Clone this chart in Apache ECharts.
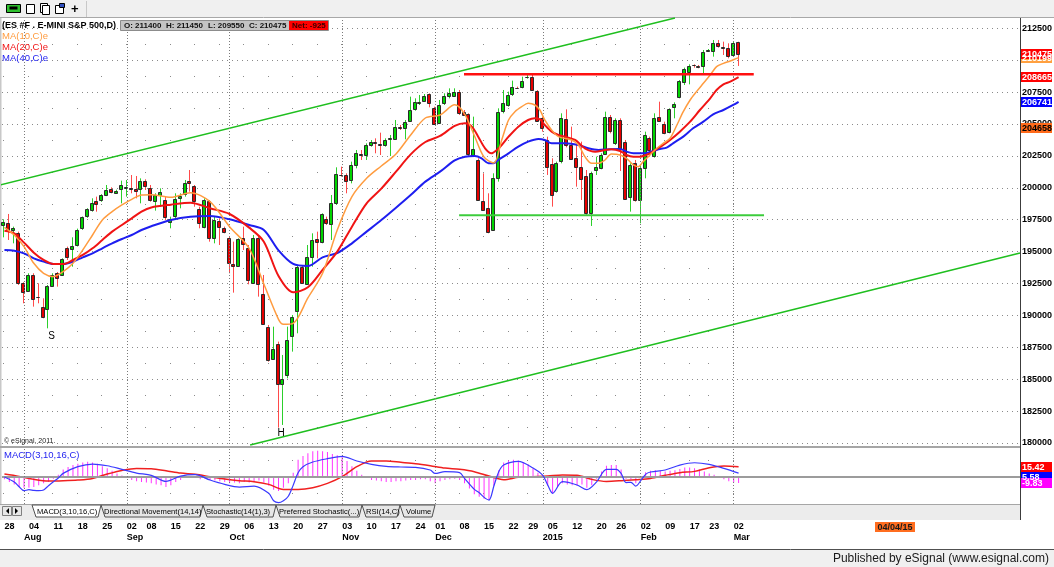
<!DOCTYPE html>
<html><head><meta charset="utf-8">
<script src="https://cdn.jsdelivr.net/npm/echarts@6/dist/echarts.min.js"></script>
<style>html,body{margin:0;padding:0;background:#fff}#c{width:1054px;height:567px}</style>
</head><body><div id="c"></div>
<script>
// ---------------- DATA ----------------
const startDate = '2014-07-28';
const holidays = ['2014-09-01','2014-11-27','2014-12-25','2015-01-01','2015-01-19','2015-02-16','2015-04-03','2015-05-25'];
const categoryCount = 208;

const opens = [197086,197216,196641,196433,192515,191940,193168,191418,190686,190477,
192306,193350,193168,195283,195179,195492,196824,197739,198313,198992,
198992,199410,199880,199619,199880,199933,199985,199933,199880,200560,
199959,198992,199436,199045,197321,197739,199175,199567,200533,200142,
198313,196955,198992,196041,197399,196824,196041,194030,193873,196041,
195309,192593,196093,191653,189119,186585,187761,184627,185332,188388,
190294,193768,192462,194604,195962,195728,197530,197164,198783,201030,
201004,200612,201840,202676,202545,203381,203590,203459,203328,203877,
203877,204765,204661,205209,206202,206672,206829,207351,206280,205105,
206620,207194,207194,207535,205967,205785,202572,202180,198993,198393,
196695,200822,205967,206490,207326,207848,207874,208632,208710,207587,
205445,203747,201867,199699,202050,205367,203355,202311,201658,200926,
198053,201344,201527,202650,205576,203486,205315,203565,199307,201919,
199046,201527,203931,202441,205576,204975,204348,206281,207143,208266,
209102,209599,209520,209572,210722,210669,211322,211035,210931,210408,
211400];
const highs = [197530,197948,196955,196563,192600,193299,193300,192515,191339,192384,
193300,193400,194474,195388,196119,196800,197750,198400,199175,199306,
199500,200220,200037,199850,200560,200612,201003,200925,200742,200664,
200220,199567,199959,199306,197739,199567,199567,200612,201395,200220,
198522,199175,199045,197739,197608,196955,196172,195780,196041,196955,
195518,196302,196302,193168,189250,189119,187944,186899,189119,190033,
193873,193873,195518,196433,196563,198000,197739,199437,201605,201657,
201134,202049,202963,202963,203485,203746,203877,204321,203877,204138,
205314,204922,205314,207142,207011,207273,207351,207403,206358,206881,
207403,207795,207795,207665,206098,205837,205576,202311,201135,199568,
201135,206229,207665,207535,208397,207926,208710,208919,208841,207665,
205576,204008,202311,202050,205837,206150,204792,203355,203617,201396,
201266,202441,202703,205967,205706,205445,205445,203748,201919,202180,
201789,204401,204009,205837,206751,205184,206229,206699,208449,209416,
209677,209677,209625,210800,210878,211584,211584,211453,211322,211453,
211450];
const lows = [196119,195910,195649,192384,190947,191860,190686,190947,189772,188988,
192253,192253,193090,194343,193820,195400,196700,197650,198130,198130,
198900,199350,199567,199550,198783,199306,199567,199175,198783,199828,
198914,198209,198522,197478,196824,197608,198392,199306,199698,198522,
196824,196824,195780,195649,195518,196433,193298,191783,193820,195127,
192436,192462,191470,189250,186376,186559,181205,181415,185071,187160,
188597,192462,192384,193821,194474,195649,197086,195910,198653,200873,
199567,200351,201526,202179,202179,203224,202702,202571,203224,202493,
203746,204530,203799,205183,206045,206489,206750,206306,204922,205052,
206489,207011,207142,205706,205628,202441,202441,198993,198262,196434,
196643,200482,205837,206359,207195,207770,207796,208553,207665,205184,
204400,201005,198523,199620,201919,203173,202180,200090,199046,197870,
197008,201005,201449,202572,204270,203356,201318,199046,198132,198915,
197218,200744,202441,202363,205184,204192,204270,205445,207013,208057,
208110,209416,209363,208972,210669,210278,210983,210408,210147,210356,
209550];
const closes = [197295,196563,196824,192515,191783,193168,191261,191400,189902,192306,
193168,192985,194395,194604,195440,196694,197686,198313,198836,198731,
199410,199828,199671,199776,200194,200037,199880,199750,200533,200142,
199045,199436,199645,197739,197530,199097,199358,200403,200351,198992,
197216,199045,196119,197478,196955,196511,194082,193847,195963,195597,
192828,196093,192462,189328,186507,187369,184627,184992,188075,189902,
193768,192515,194552,195910,195754,197948,197216,198783,201056,201004,
200560,201787,202754,202623,203328,203590,203537,203407,203746,203929,
204791,204713,205131,206097,206724,206724,207194,206672,205052,206489,
207194,207455,207534,205915,205758,202622,203016,199046,198314,196486,
200743,205967,206620,207273,207874,207822,208371,208658,207717,205262,
204662,201605,199437,201919,205445,203355,202232,201605,200743,198053,
201187,201605,202572,205576,204479,205289,203042,199124,201789,199046,
201580,204139,202964,205445,205236,204270,206151,206543,208371,209314,
209572,209572,209468,210669,210774,211322,211061,210983,210278,211375,
210475];

// moving averages: [trading-day index, value]
const ma10 = [[0,196903],[2,196302],[4,195388],[6,194082],[8,193298],[10,193037],[12,193429],[14,194082],[16,195127],[18,196302],[20,197478],[22,198131],[24,198653],[26,199097],[28,199436],[30,199460],[34,199254],[38,199619],[42,198914],[46,196955],[50,195257],[53,192462],[56,189694],[57,189302],[59,189380],[62,191365],[65,193298],[68,196694],[71,199306],[74,200743],[77,201709],[80,202649],[83,204138],[86,205470],[89,205705],[92,206500],[94,205800],[96,204100],[98,202400],[100,201950],[101.6,203747],[103,205314],[104.3,205967],[105.7,206359],[107,206620],[108.4,206490],[109.4,206098],[110.4,205315],[111.8,204531],[113.2,204008],[115.9,203747],[117.3,203355],[118.6,202441],[120,201919],[121.4,201919],[122.7,202180],[124,202640],[125.8,202572],[127.1,202311],[128.5,201789],[129.5,201658],[130.5,202050],[131.9,202572],[133.3,203095],[134.6,203486],[136,203878],[137.4,204923],[138.7,205968],[140.1,206882],[141.4,207535],[142.8,208188],[144.2,208841],[145.5,209494],[146.9,209755],[148.3,209938],[149.6,210147],[150,210199]];
const ma20 = [[0,196642],[2,196433],[4,195701],[6,194917],[8,194343],[10,194030],[12,194030],[14,194343],[16,194735],[18,195257],[20,195910],[22,196563],[24,197086],[26,197608],[28,198131],[30,198457],[34,198679],[38,198836],[42,198392],[46,197948],[50,196877],[53,195780],[56,193090],[59,191809],[62,192201],[65,193560],[68,194996],[71,196955],[74,198784],[77,199933],[80,201265],[83,202623],[86,203590],[89,204060],[92,204850],[94.1,205053],[95.5,204792],[96.8,204008],[98.2,203094],[99.5,202702],[100.6,202963],[101.6,203355],[103,204008],[105,204792],[107,205314],[108.4,205445],[109.4,205367],[110.4,204923],[111.8,204400],[113.2,204139],[114.5,204008],[116.6,203747],[118.6,203094],[120.7,202833],[122.7,202963],[124,203030],[125.8,202886],[127.1,202572],[128.5,202442],[129.9,202442],[131.9,202703],[133.3,203042],[134.6,203356],[136,203748],[138,204401],[140.1,205184],[142.1,206098],[144.2,207013],[145.5,207666],[146.9,208110],[148.3,208319],[150,208665]];
const ma40 = [[0,195127],[2,195075],[4,194865],[6,194474],[8,194213],[10,194030],[12,194030],[14,194213],[16,194552],[18,194865],[20,195257],[22,195649],[24,195988],[26,196302],[28,196694],[30,196990],[34,197478],[38,197739],[42,197791],[46,197530],[50,197086],[53,196694],[56,195100],[59,194030],[62,193873],[65,194552],[68,194892],[71,195649],[74,196563],[77,197478],[80,198444],[83,199437],[86,200482],[89,201265],[92,202150],[94.1,202441],[96.1,202493],[97.5,202310],[98.9,201919],[99.9,201919],[100.9,202180],[103,202702],[105,203224],[107,203616],[109.1,203825],[110.4,203747],[111.8,203486],[114.5,203486],[117.3,203356],[119.3,203094],[121.4,202963],[123.5,203030],[125.8,203042],[127.1,202834],[128.5,202703],[130.5,202703],[132.6,202886],[133.9,203042],[135.3,203147],[136.6,203487],[138.7,204009],[140.7,204662],[142.8,205184],[144.8,205759],[146.9,206098],[148.9,206490],[150,206741]];

// drawn lines: [trading-day index, price]
const upperTrend = [[-0.9,200219],[137,213307]];
const lowerTrend = [[50.2,179843],[207.5,194891]];
const resistance = [[93.9,208900],[153.1,208900]];
const support = [[92.9,197840],[155.2,197840]];

// MACD(3,10,16)
const macdLine = [[0,-0.5],[2,-8.2],[3,-15.4],[4,-21.5],[5,-20],[6,-21],[7,-21.5],[8,-20.5],[9,-13.8],[10,-7.7],[11,-2],[12,5.1],[15,15.4],[18,19.5],[21,16.9],[24,11.3],[27,5.6],[30,2.1],[33,-7.2],[36,1.0],[39,3.1],[42,-5.1],[45,-11.8],[48,-15.9],[51,-14.4],[54,-25.6],[55,-37],[56,-40],[57,-37],[58,-30],[59,-13],[60,6],[61,15.4],[63,22.6],[66,27.7],[69,31.3],[72,24.1],[75,19.0],[78,15.9],[81,14.9],[84,14.4],[87,10.3],[88,5],[90,7.7],[93,6.2],[94,-2.6],[96,-19.5],[97,-24.6],[98,-31.8],[99,-35.9],[100,-14.4],[101,7.7],[102,17.9],[105,23.6],[108,13.3],[110,2],[111,-12.8],[112,-25.6],[114,-7.7],[117,-12.8],[119,-20],[121,-8],[123,11.3],[125,11.3],[126,5.1],[127,-9],[128,-8.7],[129,-14.4],[130,-6.2],[131,3.6],[132,7.2],[135,10.3],[138,17.9],[141,21.5],[144,19.0],[147,12.8],[150,5.58]];
const signalLine = [[0,4.1],[3,0.5],[6,-4.1],[9,-6.7],[12,-6.2],[15,-5.1],[18,-2.6],[21,4.1],[24,9.7],[27,12.8],[30,12.3],[33,9.2],[36,5.6],[39,3.6],[42,0],[45,-3.6],[48,-6.2],[51,-7.7],[54,-11.8],[57,-19.5],[60,-19.5],[63,-16.9],[66,-10.3],[69,0],[72,15.4],[75,24.1],[78,24.1],[81,22.1],[84,20.0],[87,16.9],[90,13.3],[93,11.3],[96,7.7],[99,1.0],[102,-4.6],[105,-1.0],[108,0],[111,1.0],[114,2.6],[117,2.1],[120,-4.1],[123,-7.2],[126,-6.2],[129,-4.6],[132,-2.6],[135,2.1],[138,6.2],[141,8.2],[144,13.8],[147,16.4],[150,15.42]];
const macdHist = [-4,-8,-12,-16,-17,-17,-16,-13,-10,-8,-3,3,11,15,18,20,22,23,22,20,
16,13,9,5,2,-2,-5,-7,-8,-9,-10,-12,-13,-16,-13,-8,-5,-2,0,-1,
-4,-3,-5,-6,-7,-8,-10,-9,-10,-8,-9,-7,-6,-9,-14,-20,-22,-17,-10,6,
26,32,36,39,40,39,38,35,33,31,24,16,9,3,-2,-5,-6,-7,-8,-8,
-7,-7,-6,-5,-5,-4,-4,-7,-10,-7,-5,-4,-3,-5,-10,-18,-27,-31,-34,-36,
-14,10,22,25,26,25,22,19,13,6,2,-14,-26,-16,-10,-12,-13,-14,-12,-17,
-13,-3,8,17,18,18,11,-3,-4,-10,-2,7,9,10,9,8,9,10,12,14,
14,13,11,8,5,3,1,-4,-7,-9,-9.83];

const yTicks = {min:180000, max:212500, step:2500};
const macdGridLevels = [25, -25];
const monthNames = ['2015','Feb','Mar','Apr','May','Jun','Jul','Aug','Sep','Oct','Nov','Dec'];
const lastLabelIndex = 149;
const tabs = [['MACD(3,10,16,C)',32,101,37,true],['Directional Movement(14,14)',101,203,104],['Stochastic(14(1),3)',203,276,206],
              ['Preferred Stochastic(...)',276,362,279],['RSI(14,C)',362,400,366],['Volume',400,435,406]];

// ---------------- CATEGORIES ----------------
function buildDays(){
  const out=[]; const d=new Date(startDate+'T00:00:00Z');
  while(out.length<categoryCount){
    const s=d.toISOString().slice(0,10), wd=d.getUTCDay();
    if(wd!==0 && wd!==6 && holidays.indexOf(s)<0) out.push(s);
    d.setUTCDate(d.getUTCDate()+1);
  }
  return out;
}
const cats = buildDays();
const dow = s => new Date(s+'T00:00:00Z').getUTCDay();
const weekStart = cats.map((s,i)=> i<=lastLabelIndex && (i===0 || dow(s) < dow(cats[i-1])));
const monthStart = cats.map((s,i)=> i>0 && i<=lastLabelIndex && s.slice(5,7)!==cats[i-1].slice(5,7));
const monthIdx = monthStart.map((b,i)=>b?i:-1).filter(i=>i>=0);
const weekIdx = weekStart.map((b,i)=>b?i:-1).filter(i=>i>=0);
const candleRows = opens.map((o,i)=>[i,o,closes[i],lows[i],highs[i]]);
// sparse weekly dots on the half-step price rows and on the MACD guide rows
const priceMidRows = [];
for(let v=yTicks.min+yTicks.step/2; v<yTicks.max; v+=yTicks.step) priceMidRows.push(v);
const priceDots = [], macdDots = [];
weekIdx.forEach(i=>{ priceMidRows.forEach(v=>priceDots.push([i,v])); macdGridLevels.forEach(v=>macdDots.push([i,v])); });

// ---------------- LAYOUT ----------------
const FONT = '"Liberation Sans", Arial, sans-serif';
const L = 2, R = 34;
const priceTop = 18, priceBot = 447, lblTop = 28.3, lblBot = 443;
const PX = (yTicks.max - yTicks.min)/(lblBot - lblTop);
const priceMin = yTicks.min - (priceBot - lblBot)*PX;
const priceMax = yTicks.max + (lblTop - priceTop)*PX;
const macdTop = 447, macdBot = 504;

const chart = echarts.init(document.getElementById('c'), null, {renderer:'canvas', width:1054, height:567});

function renderCandle(params, api){
  const i=api.value(0), o=api.value(1), c=api.value(2), l=api.value(3), h=api.value(4);
  const pO=api.coord([i,o]), pC=api.coord([i,c]), pL=api.coord([i,l]), pH=api.coord([i,h]);
  const cx=Math.round(pO[0]);
  const up=c>=o;
  const top=Math.min(pO[1],pC[1]), bot=Math.max(pO[1],pC[1]);
  return {type:'group', children:[
    {type:'line', shape:{x1:cx-0.5,y1:pH[1],x2:cx-0.5,y2:pL[1]}, style:{stroke:up?'#2ccf2c':'#ff4a4a', lineWidth:1}},
    {type:'rect', shape:{x:cx-2.5, y:Math.round(top)+0.5, width:3, height:Math.max(Math.round(bot-top),0)},
     style:{fill:up?'#00d400':'#e60000', stroke:'#2a2a2a', lineWidth:1}}
  ]};
}
function renderDot(params, api){
  const p=api.coord([api.value(0), api.value(1)]);
  return {type:'rect', shape:{x:Math.round(p[0])-1, y:Math.round(p[1]), width:1, height:1}, style:{fill:'#8a8a8a'}};
}

const vLines = monthIdx.map(i=>({xAxis:i}));
const dotted = {type:[1,2], color:'#7a7a7a', width:1};

const option = {
  backgroundColor:'#ffffff',
  animation:false,
  grid:[
    {left:L, right:R, top:priceTop, height:priceBot-priceTop, containLabel:false, outerBoundsMode:'none'},
    {left:L, right:R, top:lblTop, height:lblBot-lblTop, containLabel:false, outerBoundsMode:'none'},
    {left:L, right:R, top:macdTop, height:macdBot-macdTop, containLabel:false, outerBoundsMode:'none'}
  ],
  xAxis:[
    {type:'category', gridIndex:0, data:cats, boundaryGap:true, show:false},
    {type:'value', gridIndex:0, min:-0.5, max:categoryCount-0.5, show:false},
    {type:'category', gridIndex:1, data:cats, boundaryGap:true, show:false},
    {type:'category', gridIndex:2, data:cats, boundaryGap:true, position:'bottom',
     axisLine:{show:false}, axisTick:{show:false}, splitLine:{show:false},
     axisLabel:{interval:(i)=>weekStart[i], formatter:(v)=>v.slice(8,10), align:'left', margin:18,
       fontSize:9, fontWeight:'bold', color:'#000', fontFamily:FONT}},
    {type:'category', gridIndex:2, data:cats, boundaryGap:true, position:'bottom', offset:11,
     axisLine:{show:false}, axisTick:{show:false}, splitLine:{show:false},
     axisLabel:{interval:(i)=>monthStart[i], formatter:(v)=>monthNames[(+v.slice(5,7))-1], align:'left', margin:18,
       fontSize:9, fontWeight:'bold', color:'#000', fontFamily:FONT}},
    {type:'value', gridIndex:2, min:-0.5, max:categoryCount-0.5, show:false}
  ],
  yAxis:[
    {type:'value', gridIndex:0, min:priceMin, max:priceMax, show:false},
    {type:'value', gridIndex:1, position:'right', min:yTicks.min, max:yTicks.max, interval:yTicks.step,
     axisLine:{show:false}, axisTick:{show:false},
     axisLabel:{margin:2, fontSize:9, fontWeight:'bold', color:'#000', fontFamily:FONT, formatter:(v)=>String(v)},
     splitLine:{show:true, lineStyle:{type:[1,4], color:'#8a8a8a', width:1}}},
    {type:'value', gridIndex:2, min:-42, max:45.7, show:false}
  ],
  series:[
    {type:'line', xAxisIndex:0, yAxisIndex:0, data:[], silent:true,
     markLine:{symbol:'none', silent:true, label:{show:false}, lineStyle:dotted, data:vLines}},
    {type:'custom', xAxisIndex:0, yAxisIndex:0, data:priceDots, renderItem:renderDot, silent:true, z:1},
    {type:'custom', name:'ES', xAxisIndex:0, yAxisIndex:0, data:candleRows, renderItem:renderCandle,
     encode:{x:0, y:[1,2,3,4]}, z:3},
    {type:'line', xAxisIndex:1, yAxisIndex:0, data:upperTrend, symbol:'none', clip:false,
     lineStyle:{color:'#1fbf1f', width:1.5}, z:4},
    {type:'line', xAxisIndex:1, yAxisIndex:0, data:lowerTrend, symbol:'none', clip:false,
     lineStyle:{color:'#1fbf1f', width:1.5}, z:4},
    {type:'line', xAxisIndex:1, yAxisIndex:0, data:ma40, symbol:'none', smooth:0.3,
     lineStyle:{color:'#1e1ef0', width:2}, z:5},
    {type:'line', xAxisIndex:1, yAxisIndex:0, data:ma20, symbol:'none', smooth:0.3,
     lineStyle:{color:'#f01414', width:2}, z:5},
    {type:'line', xAxisIndex:1, yAxisIndex:0, data:ma10, symbol:'none', smooth:0.3,
     lineStyle:{color:'#ff9c40', width:1.5}, z:5},
    {type:'line', xAxisIndex:1, yAxisIndex:0, data:resistance, symbol:'none',
     lineStyle:{color:'#ff1010', width:2.5}, z:6},
    {type:'line', xAxisIndex:1, yAxisIndex:0, data:support, symbol:'none',
     lineStyle:{color:'#3ccc3c', width:2}, z:6},
    {type:'custom', xAxisIndex:3, yAxisIndex:2, data:macdDots, renderItem:renderDot, silent:true, z:1},
    {type:'bar', xAxisIndex:3, yAxisIndex:2, data:macdHist, barWidth:1, itemStyle:{color:'#ff33ff'}, z:3,
     markLine:{symbol:'none', silent:true, label:{show:false}, data:[
       {yAxis:0, lineStyle:{color:'#9c9c9c', width:2, type:'solid'}},
       ...monthIdx.map(i=>({xAxis:i, lineStyle:dotted}))
     ]}},
    {type:'line', xAxisIndex:5, yAxisIndex:2, data:signalLine, symbol:'none', smooth:0.3,
     lineStyle:{color:'#f02020', width:1.5}, z:4},
    {type:'line', xAxisIndex:5, yAxisIndex:2, data:macdLine, symbol:'none', smooth:0.3,
     lineStyle:{color:'#3a3aff', width:1.2}, z:5}
  ]
};
chart.setOption(option);

// ---------------- OVERLAYS ----------------
const yP = v => chart.convertToPixel({yAxisIndex:0}, v);
const yM = v => chart.convertToPixel({yAxisIndex:2}, v);
const pt = (i,v) => chart.convertToPixel({gridIndex:0}, [i,v]);
function txt(x,y,text,font,fill,extra){return {type:'text', x:x, y:y, z:120, style:Object.assign({text:text, font:font, fill:fill, verticalAlign:'middle'}, extra||{})};}
function box(y,text,bg,fg){
  return [{type:'rect', z:110, shape:{x:1021, y:Math.round(y-5), width:31, height:10}, style:{fill:bg}},
          txt(1022, Math.round(y)+0.5, text, 'bold 9px '+FONT, fg)];
}
const g = [];
// toolbar
g.push({type:'rect', z:1, shape:{x:0,y:0,width:1054,height:17}, style:{fill:'#f0f0f0'}});
g.push({type:'line', z:2, shape:{x1:0,y1:17.5,x2:1054,y2:17.5}, style:{stroke:'#a8a8a8'}});
g.push({type:'rect', z:2, shape:{x:6.5,y:4.5,width:14,height:8}, style:{fill:'#2fc12f', stroke:'#000'}});
g.push({type:'rect', z:2, shape:{x:9.5,y:6.5,width:8,height:3}, style:{fill:'#000'}});
g.push({type:'rect', z:2, shape:{x:26.5,y:4.5,width:8,height:9}, style:{fill:'#fff', stroke:'#000'}});
g.push({type:'rect', z:2, shape:{x:40.5,y:3.5,width:7,height:9}, style:{fill:'#fff', stroke:'#000'}});
g.push({type:'rect', z:2, shape:{x:42.5,y:5.5,width:7,height:9}, style:{fill:'#fff', stroke:'#000'}});
g.push({type:'rect', z:2, shape:{x:55.5,y:5.5,width:8,height:8}, style:{fill:'#fff', stroke:'#000'}});
g.push({type:'rect', z:2, shape:{x:59.5,y:3.5,width:5,height:4}, style:{fill:'#3050c0', stroke:'#000'}});
g.push(txt(71,9,'+','bold 13px '+FONT,'#000'));
g.push({type:'line', z:2, shape:{x1:86.5,y1:1,x2:86.5,y2:17}, style:{stroke:'#c8c8c8'}});
// panel frame
g.push({type:'rect', z:1, shape:{x:0,y:18,width:1.5,height:486}, style:{fill:'#c8c8c8'}});
g.push({type:'line', z:8, shape:{x1:0,y1:447,x2:1020,y2:447}, style:{stroke:'#a6a6a6', lineWidth:2}});
g.push({type:'line', z:8, shape:{x1:0,y1:504.5,x2:1020,y2:504.5}, style:{stroke:'#a6a6a6', lineWidth:1}});
g.push({type:'line', z:8, shape:{x1:1020.5,y1:18,x2:1020.5,y2:520}, style:{stroke:'#3c3c3c', lineWidth:1}});
// tab row
g.push({type:'rect', z:8, shape:{x:0,y:505,width:1020,height:15}, style:{fill:'#ececec'}});
g.push({type:'rect', z:9, shape:{x:2.5,y:506.5,width:9,height:9}, style:{fill:'#e8e8e8', stroke:'#808080'}});
g.push({type:'rect', z:9, shape:{x:12.5,y:506.5,width:9,height:9}, style:{fill:'#e8e8e8', stroke:'#808080'}});
g.push({type:'polygon', z:10, shape:{points:[[9,508],[9,514],[6,511]]}, style:{fill:'#000'}});
g.push({type:'polygon', z:10, shape:{points:[[15,508],[15,514],[18,511]]}, style:{fill:'#000'}});
tabs.filter(t=>!t[4]).concat(tabs.filter(t=>t[4])).forEach(t=>{
  const act=!!t[4];
  g.push({type:'polygon', z:act?11:9, shape:{points:[[t[1],505],[t[2],505],[t[2]-3,517],[t[1]+4,517]]},
          style:{fill:act?'#ffffff':'#e6e6e6', stroke:'#505050', lineWidth:1}});
  g.push(Object.assign(txt(t[3], 511.5, t[0], '7.6px '+FONT, '#000'), {z:act?12:10}));
});
// bottom status bar
g.push({type:'line', z:8, shape:{x1:0,y1:549.5,x2:1054,y2:549.5}, style:{stroke:'#505050', lineWidth:1}});
g.push({type:'rect', z:8, shape:{x:0,y:550,width:1054,height:17}, style:{fill:'#f0f0f0'}});
g.push(txt(1049, 558.5, 'Published by eSignal (www.esignal.com)', '12px '+FONT, '#1a1a1a', {align:'right'}));
// cursor date label
g.push({type:'rect', z:110, shape:{x:875,y:522,width:40,height:10}, style:{fill:'#ff6d1f'}});
g.push(txt(895, 527.5, '04/04/15', 'bold 9px '+FONT, '#1a1a1a', {align:'center'}));
// titles and legends
g.push(txt(2, 25.5, '(ES #F . E-MINI S&P 500,D)', 'bold 9px '+FONT, '#000'));
g.push(txt(2, 36, 'MA(10,C)e', '9.5px '+FONT, '#ff9c40'));
g.push(txt(2, 47, 'MA(20,C)e', '9.5px '+FONT, '#f01414'));
g.push(txt(2, 58, 'MA(40,C)e', '9.5px '+FONT, '#1e1ef0'));
g.push({type:'rect', z:110, shape:{x:120.5,y:20.5,width:208,height:10}, style:{fill:'#c4c4c4', stroke:'#8c8c8c'}});
g.push({type:'rect', z:111, shape:{x:289,y:21,width:39,height:9}, style:{fill:'#ff0000'}});
[['O: '+opens[150],124],['H: '+highs[150],166],['L: '+lows[150],208],['C: '+closes[150],249]].forEach(a=>
  g.push(txt(a[1], 25.8, a[0], 'bold 8px '+FONT, '#111')));
g.push(txt(292, 25.8, 'Net: -925', 'bold 8px '+FONT, '#3a0000'));
g.push(txt(4, 455.5, 'MACD(3,10,16,C)', '9.5px '+FONT, '#1e1ef0'));
g.push(txt(4, 441.5, '\u00a9 eSignal, 2011.', '7px '+FONT, '#222'));
// S / H markers
const pS = pt(9, lows[9]), pH = pt(56, lows[56]);
g.push(txt(pS[0]+3, pS[1]+7.5, 'S', '10px '+FONT, '#000', {align:'center'}));
g.push(txt(pH[0]+2.5, pH[1]+5.5, 'H', '10px '+FONT, '#000', {align:'center'}));
// right-side value boxes
const lastMA10 = ma10[ma10.length-1][1], lastMA20 = ma20[ma20.length-1][1], lastMA40 = ma40[ma40.length-1][1];
g.push(...box(yP(lastMA10), String(lastMA10), '#ffa040', '#ffffff'));
g.push(...box(yP(closes[150]), String(closes[150]), '#ff0000', '#ffffff'));
g.push(...box(yP(lastMA20), String(lastMA20), '#ff0000', '#ffffff'));
g.push(...box(yP(lastMA40), String(lastMA40), '#0000ff', '#ffffff'));
g.push(...box(yP(204658), '204658', '#ff6a1a', '#000000'));
const lastSig = signalLine[signalLine.length-1][1], lastMacd = macdLine[macdLine.length-1][1], lastHist = macdHist[macdHist.length-1];
const ySig = yM(lastSig);
g.push(...box(ySig, lastSig.toFixed(2), '#ff0000', '#ffffff'));
g.push(...box(ySig+10, lastMacd.toFixed(2), '#0000ff', '#ffffff'));
g.push(...box(yM(lastHist), lastHist.toFixed(2), '#ff00ff', '#ffffff'));

chart.setOption({graphic:{elements:g}});
</script></body></html>
